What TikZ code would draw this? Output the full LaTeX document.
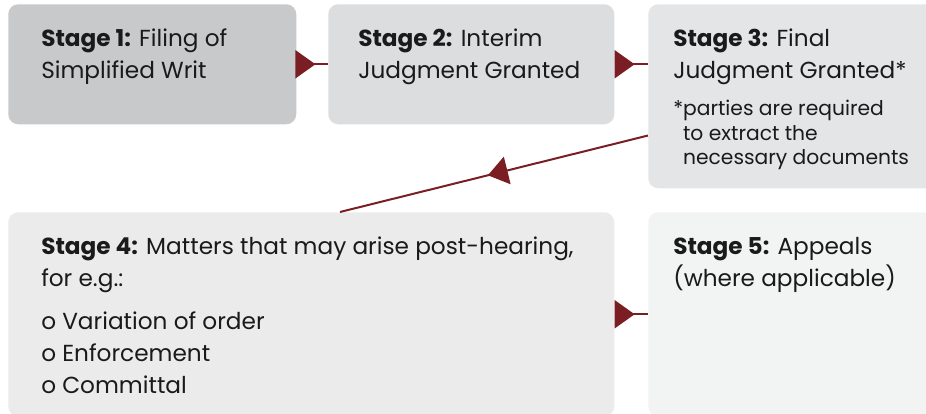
\documentclass[tikz,border=0pt]{standalone}
\usepackage{fontspec}
\setmainfont{Poppins}
\usetikzlibrary{arrows.meta,decorations.markings,positioning}

\definecolor{wine}{RGB}{122,30,36}
\definecolor{inktext}{RGB}{26,26,26}
\definecolor{shadeA}{RGB}{200,201,203}
\definecolor{shadeB}{RGB}{220,221,223}
\definecolor{shadeC}{RGB}{228,229,231}
\definecolor{shadeD}{RGB}{235,235,235}
\definecolor{shadeE}{RGB}{242,243,243}

\tikzset{
  stagebox/.style={draw=none,rounded corners=7.5pt,anchor=north west,inner sep=0pt},
  stagetext/.style={anchor=north west,inner sep=0pt,align=left,text=inktext,
    font=\fontsize{17.4}{24}\selectfont},
  notetext/.style={anchor=north west,inner sep=0pt,align=left,text=inktext,
    font=\fontsize{15.2}{18.3}\selectfont},
  flow/.style={draw=wine,line width=1.5pt,postaction={decorate},
    decoration={markings,mark=at position #1 with {\arrow{Triangle[length=15pt,width=21pt]}}}}
}

\begin{document}
\begin{tikzpicture}[x=0.75pt,y=-0.75pt]
  \useasboundingbox (0,0) rectangle (926,414);
  \clip (0,0) rectangle (926,414);
  % boxes
  \node[stagebox,fill=shadeA,minimum width=216pt,minimum height=90pt] (s1) at (8,4) {};
  \node[stagebox,fill=shadeB,minimum width=214.5pt,minimum height=90pt] (s2) at (328,4) {};
  \node[stagebox,fill=shadeC,minimum width=228pt,minimum height=138pt] (s3) at (648,4) {};
  \node[stagebox,fill=shadeD,minimum width=454.5pt,minimum height=153pt] (s4) at (8,212) {};
  \node[stagebox,fill=shadeE,minimum width=228pt,minimum height=153pt] (s5) at (648,212) {};
  % texts
  \node[stagetext] (t1) at (41,29) {\textbf{Stage 1:} Filing of\\Simplified Writ};
  \node[stagetext] (t2) at (358,29) {\textbf{Stage 2:} Interim\\Judgment Granted};
  \node[stagetext] (t3) at (673,29) {\textbf{Stage 3:} Final\\Judgment Granted*};
  \node[notetext] (n3) at (673,100) {*parties are required\\\phantom{*}to extract the\\\phantom{*}necessary documents};
  \node[stagetext] (t4) at (41,237) {\textbf{Stage 4:} Matters that may arise post-hearing,\\for e.g.:\\[8pt]
    o Variation of order\\o Enforcement\\o Committal};
  \node[stagetext] (t5) at (673,237) {\textbf{Stage 5:} Appeals\\(where applicable)};
  % connectors
  \path[flow=0.6] (s1.east) -- (s2.west);
  \path[flow=0.6] (s2.east) -- (s2.east -| s3.west);
  \path[flow=0.52] ([yshift=39.75pt]s3.south west) -- ([xshift=249pt]s4.north west);
  \path[flow=0.6] (s4.east) -- (s5.west);
\end{tikzpicture}
\end{document}
